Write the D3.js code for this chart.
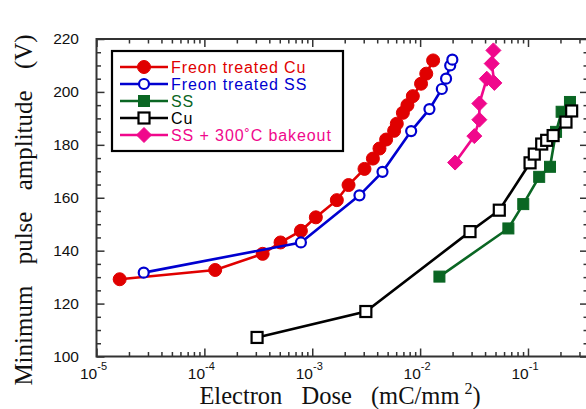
<!DOCTYPE html>
<html lang="en">
<head>
<meta charset="utf-8">
<title>Minimum pulse amplitude vs electron dose</title>
<script src="https://d3js.org/d3.v7.min.js"></script>
<style>
  html, body { margin: 0; padding: 0; background: #fff; }
  .tick-label { font-family: "Liberation Sans", Arial, sans-serif; font-size: 15.5px; fill: #111; }
  .axis-title { font-family: "Liberation Serif", "Times New Roman", serif; fill: #111; }
  .legend text { font-family: "Liberation Sans", Arial, sans-serif; font-size: 16px; letter-spacing: 0.9px; }
  .axis path { display: none; }
  .axis line { stroke: #333; stroke-width: 1.5px; }
</style>
</head>
<body>
<div id="chart"></div>
<script>
// dose in mC/mm^2, amplitude in V
var freonCuDose = [1.64e-5, 1.26e-4, 3.47e-4, 5.08e-4, 7.85e-4, 1.08e-3, 1.69e-3, 2.17e-3, 3.05e-3, 3.65e-3, 4.2e-3, 4.84e-3, 5.74e-3, 6.08e-3, 6.92e-3, 7.63e-3, 8.56e-3, 1.02e-2, 1.14e-2, 1.32e-2];
var freonCuVolt = [129.2, 132.7, 138.8, 143.1, 147.5, 152.6, 159.1, 164.8, 170.9, 174.8, 178.6, 182.0, 185.3, 188.0, 192.1, 195.0, 198.4, 203.1, 206.9, 211.9];

var freonSSDose = [2.74e-5, 7.85e-4, 2.74e-3, 4.48e-3, 8.26e-3, 1.22e-2, 1.59e-2, 1.74e-2, 1.9e-2, 1.99e-2];
var freonSSVolt = [131.7, 143.1, 160.9, 169.8, 185.2, 193.5, 201.1, 205.0, 210.0, 212.2];

var ssDose = [1.51e-2, 6.58e-2, 9.04e-2, 0.127, 0.16, 0.182, 0.205, 0.245];
var ssVolt = [130.2, 148.4, 157.6, 167.9, 171.7, 184.9, 192.5, 196.2];

var cuDose = [3.08e-4, 3.14e-3, 2.9e-2, 5.42e-2, 0.1045, 0.1144, 0.134, 0.149, 0.171, 0.225, 0.254];
var cuVolt = [107.2, 117.0, 147.2, 155.3, 173.2, 176.5, 180.3, 181.7, 183.5, 188.6, 192.8];

var bakeDose = [2.11e-2, 3.18e-2, 3.54e-2, 3.54e-2, 4.15e-2, 4.88e-2, 4.61e-2, 4.78e-2];
var bakeVolt = [173.3, 183.3, 189.5, 195.6, 205.0, 203.4, 210.7, 215.7];

var xMajorTicks = [1e-5, 1e-4, 1e-3, 1e-2, 1e-1];
var xTickExponents = ["-5", "-4", "-3", "-2", "-1"];
var yMajorTicks = [100, 120, 140, 160, 180, 200, 220];

var seriesNames = ["Freon treated Cu", "Freon treated SS", "SS", "Cu", "SS + 300\u02DAC bakeout"];

var w = 586, h = 409;
var plotL = 96.5, plotR = 588, plotT = 39, plotB = 356.5;

var x = d3.scaleLog().domain([1e-5, 0.36]).range([plotL, plotR]);
var y = d3.scaleLinear().domain([100, 220]).range([plotB, plotT]);

var svg = d3.select("#chart").append("svg")
  .attr("width", w).attr("height", h);

// minor ticks
var xMinor = [];
for (var e = -5; e <= -1; e++) {
  for (var m = 2; m <= 9; m++) {
    var v = m * Math.pow(10, e);
    if (v <= 0.36) xMinor.push(v);
  }
}
var yMinor = d3.range(100, 221, 5).filter(function(d) { return d % 20 !== 0; });

svg.append("g").attr("class", "axis").attr("transform", "translate(0," + plotB + ")")
  .call(d3.axisBottom(x).tickValues(xMajorTicks).tickSize(-8).tickFormat(""));
svg.append("g").attr("class", "axis").attr("transform", "translate(0," + plotB + ")")
  .call(d3.axisBottom(x).tickValues(xMinor).tickSize(-4.5).tickFormat(""));
svg.append("g").attr("class", "axis").attr("transform", "translate(0," + plotT + ")")
  .call(d3.axisTop(x).tickValues(xMajorTicks).tickSize(-8).tickFormat(""));
svg.append("g").attr("class", "axis").attr("transform", "translate(0," + plotT + ")")
  .call(d3.axisTop(x).tickValues(xMinor).tickSize(-4.5).tickFormat(""));

svg.append("g").attr("class", "axis").attr("transform", "translate(" + plotL + ",0)")
  .call(d3.axisLeft(y).tickValues(yMajorTicks).tickSize(-8).tickFormat(""));
svg.append("g").attr("class", "axis").attr("transform", "translate(" + plotL + ",0)")
  .call(d3.axisLeft(y).tickValues(yMinor).tickSize(-4.5).tickFormat(""));
svg.append("g").attr("class", "axis").attr("transform", "translate(" + plotR + ",0)")
  .call(d3.axisRight(y).tickValues(yMajorTicks).tickSize(-8).tickFormat(""));
svg.append("g").attr("class", "axis").attr("transform", "translate(" + plotR + ",0)")
  .call(d3.axisRight(y).tickValues(yMinor).tickSize(-4.5).tickFormat(""));

// frame
svg.append("rect")
  .attr("x", plotL).attr("y", plotT)
  .attr("width", plotR - plotL).attr("height", plotB - plotT)
  .attr("fill", "none").attr("stroke", "#333").attr("stroke-width", 2);

// tick labels
svg.selectAll(".ylab").data(yMajorTicks).enter().append("text")
  .attr("class", "tick-label")
  .attr("x", 79).attr("y", function(d) { return y(d) + 5; })
  .attr("text-anchor", "end")
  .text(function(d) { return d; });

var xl = svg.selectAll(".xlab").data(xMajorTicks).enter().append("text")
  .attr("class", "tick-label")
  .attr("x", function(d) { return x(d) - 3; })
  .attr("y", 379)
  .attr("text-anchor", "middle");
xl.append("tspan").text("10");
xl.append("tspan").attr("dy", -9).attr("font-size", "11px")
  .text(function(d, i) { return xTickExponents[i]; });

// axis titles
var xt = svg.append("text").attr("class", "axis-title")
  .attr("x", 340).attr("y", 404).attr("text-anchor", "middle")
  .attr("font-size", "24.5px").attr("word-spacing", "13px");
xt.append("tspan").text("Electron Dose (mC/mm");
xt.append("tspan").attr("dx", 5).attr("dy", -10).attr("font-size", "16px").text("2");
xt.append("tspan").attr("dy", 10).text(")");

svg.append("text").attr("class", "axis-title")
  .attr("transform", "translate(32,210) rotate(-90)")
  .attr("text-anchor", "middle")
  .attr("font-size", "25px").attr("word-spacing", "15px")
  .text("Minimum pulse amplitude (V)");

// series
var series = [
  { dose: freonCuDose, volt: freonCuVolt, color: "#e00000", marker: "circle", fill: true, size: 6.5 },
  { dose: freonSSDose, volt: freonSSVolt, color: "#0000d0", marker: "circle", fill: false, size: 5 },
  { dose: ssDose, volt: ssVolt, color: "#0a6623", marker: "square", fill: true, size: 11 },
  { dose: cuDose, volt: cuVolt, color: "#000000", marker: "square", fill: false, size: 11 },
  { dose: bakeDose, volt: bakeVolt, color: "#f0088c", marker: "diamond", fill: true, size: 7.5 }
];

var line = d3.line().x(function(d) { return x(d[0]); }).y(function(d) { return y(d[1]); });

function drawMarker(g, cx, cy, s) {
  var el;
  if (s.marker === "circle") {
    el = g.append("circle").attr("cx", cx).attr("cy", cy).attr("r", s.size);
  } else if (s.marker === "square") {
    el = g.append("rect").attr("x", cx - s.size / 2).attr("y", cy - s.size / 2)
      .attr("width", s.size).attr("height", s.size);
  } else {
    var r = s.size;
    el = g.append("path").attr("d", "M" + cx + "," + (cy - r) + "L" + (cx + r) + "," + cy +
      "L" + cx + "," + (cy + r) + "L" + (cx - r) + "," + cy + "Z");
  }
  el.attr("fill", s.fill ? s.color : "#fff")
    .attr("stroke", s.color).attr("stroke-width", s.fill ? 1 : 2.2);
}

series.forEach(function(s) {
  var pts = s.dose.map(function(d, i) { return [d, s.volt[i]]; });
  var g = svg.append("g");
  g.append("path").datum(pts).attr("d", line)
    .attr("fill", "none").attr("stroke", s.color).attr("stroke-width", 2.6);
  pts.forEach(function(p) { drawMarker(g, x(p[0]), y(p[1]), s); });
});

// legend
var legend = svg.append("g").attr("class", "legend");
legend.append("rect")
  .attr("x", 112).attr("y", 51).attr("width", 231).attr("height", 100)
  .attr("fill", "#fff").attr("stroke", "#000").attr("stroke-width", 2.2);

series.forEach(function(s, i) {
  var ly = 67 + i * 17;
  var g = legend.append("g");
  g.append("line").attr("x1", 120).attr("x2", 168).attr("y1", ly).attr("y2", ly)
    .attr("stroke", s.color).attr("stroke-width", 2.6);
  drawMarker(g, 144, ly, s);
  g.append("text").attr("x", 171).attr("y", ly + 6)
    .attr("fill", s.color).text(seriesNames[i]);
});
</script>
</body>
</html>
